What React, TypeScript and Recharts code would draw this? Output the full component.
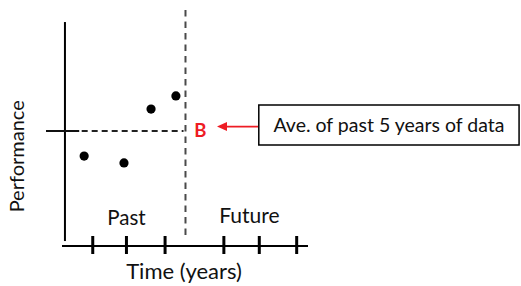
import React from 'react';
import {
  ScatterChart,
  Scatter,
  XAxis,
  YAxis,
  ReferenceLine,
  ReferenceDot,
  ReferenceArea,
} from 'recharts';

// ---- data (chart units: years on x, performance on y) ----
const pastYears = [0.9, 2.52, 3.62, 4.63];
const pastPerformance = [3.81, 3.52, 5.8, 6.36];
const timeTicks = [1.25, 2.62, 4.19, 6.58, 8.02, 9.54];
const presentYear = 5.02;
const xAxisLabel = 'Time (years)';
const yAxisLabel = 'Performance';
const pastLabel = 'Past';
const futureLabel = 'Future';
const pointLabel = 'B';
const calloutText = 'Ave. of past 5 years of data';

const points = pastYears.map((x, i) => ({ x, y: pastPerformance[i] }));
const average =
  pastPerformance.reduce((s, v) => s + v, 0) / pastPerformance.length;

const FONT = 'Lato, "Open Sans", sans-serif';
const INK = '#111';
const RED = '#ee1c24';
const FS = 19.5;

const Tick = (props: any) => {
  const { x, y } = props;
  return <line x1={x} x2={x} y1={y - 10} y2={y + 8} stroke="#000" strokeWidth={3} />;
};

const makeText =
  (text: string, opts: { size?: number; fill?: string; weight?: any; rotate?: boolean } = {}) =>
  (p: any) => {
    const { cx, cy } = p;
    return (
      <text
        x={cx}
        y={cy}
        textAnchor="middle"
        fontFamily={FONT}
        fontSize={opts.size ?? FS}
        fontWeight={opts.weight ?? 'normal'}
        fill={opts.fill ?? INK}
        transform={opts.rotate ? `rotate(-90 ${cx} ${cy})` : undefined}
      >
        {text}
      </text>
    );
  };

const Arrow = (p: any) => {
  const { x1, y1, x2, y2 } = p;
  const head = 10;
  const dir = x2 < x1 ? 1 : -1;
  return (
    <g>
      <line x1={x1} y1={y1} x2={x2 + dir * head} y2={y2} stroke={RED} strokeWidth={1.8} />
      <polygon
        points={`${x2},${y2} ${x2 + dir * head},${y2 - 4.5} ${x2 + dir * head},${y2 + 4.5}`}
        fill={RED}
      />
    </g>
  );
};

const Dot = (p: any) => <circle cx={p.cx} cy={p.cy} r={4.6} fill="#000" />;

export default function App() {
  return (
    <div style={{ position: 'absolute', left: 0, top: 0, width: 521, height: 286, background: '#fff' }}>
      <ScatterChart
        width={521}
        height={286}
        margin={{ top: 10, right: 213, bottom: 0, left: 62 }}
      >
        <XAxis
          type="number"
          dataKey="x"
          domain={[0, 10]}
          ticks={timeTicks}
          interval={0}
          tick={<Tick />}
          tickLine={false}
          tickSize={0}
          tickMargin={0}
          height={40}
          axisLine={{ stroke: '#000', strokeWidth: 2 }}
          allowDataOverflow
        />
        <YAxis type="number" dataKey="y" domain={[0, 10]} hide allowDataOverflow />

        {/* hand-drawn vertical axis */}
        <ReferenceLine
          segment={[{ x: 0.12, y: 9.49 }, { x: 0.12, y: 0.21 }]}
          stroke="#000"
          strokeWidth={2}
          ifOverflow="visible"
        />
        {/* present (vertical dashed) */}
        <ReferenceLine
          segment={[{ x: presentYear, y: 10 }, { x: presentYear, y: 0.4 }]}
          stroke="#4a4a4a"
          strokeWidth={2}
          strokeDasharray="6.5 5"
          ifOverflow="visible"
        />
        {/* average level */}
        <ReferenceLine
          segment={[{ x: -0.65, y: average }, { x: 0.7, y: average }]}
          stroke="#111"
          strokeWidth={2}
          ifOverflow="visible"
        />
        <ReferenceLine
          segment={[{ x: 0.8, y: average }, { x: presentYear - 0.08, y: average }]}
          stroke="#222"
          strokeWidth={2}
          strokeDasharray="6 4"
          ifOverflow="visible"
        />

        <Scatter data={points} isAnimationActive={false} shape={<Dot />} />

        {/* callout */}
        <ReferenceArea
          x1={8.0}
          x2={18.58}
          y1={4.28}
          y2={5.97}
          ifOverflow="visible"
          fill="#fff"
          fillOpacity={1}
          stroke="#000"
          strokeWidth={1.5}
        />
        <ReferenceDot x={13.29} y={4.82} r={0} ifOverflow="visible" shape={makeText(calloutText)} />
        <ReferenceLine
          segment={[{ x: 7.97, y: 5.06 }, { x: 6.3, y: 5.06 }]}
          ifOverflow="visible"
          shape={<Arrow />}
        />
        <ReferenceDot
          x={5.62}
          y={4.62}
          r={0}
          ifOverflow="visible"
          shape={makeText(pointLabel, { fill: RED, weight: 'bold', size: 18.5 })}
        />

        <ReferenceDot x={2.62} y={0.87} r={0} ifOverflow="visible" shape={makeText(pastLabel, { size: 20.5 })} />
        <ReferenceDot x={7.62} y={0.97} r={0} ifOverflow="visible" shape={makeText(futureLabel, { size: 21 })} />
        <ReferenceDot x={4.96} y={-1.4} r={0} ifOverflow="visible" shape={makeText(xAxisLabel, { size: 22 })} />
        <ReferenceDot
          x={-1.53}
          y={3.8}
          r={0}
          ifOverflow="visible"
          shape={makeText(yAxisLabel, { rotate: true, size: 20 })}
        />
      </ScatterChart>
    </div>
  );
}
